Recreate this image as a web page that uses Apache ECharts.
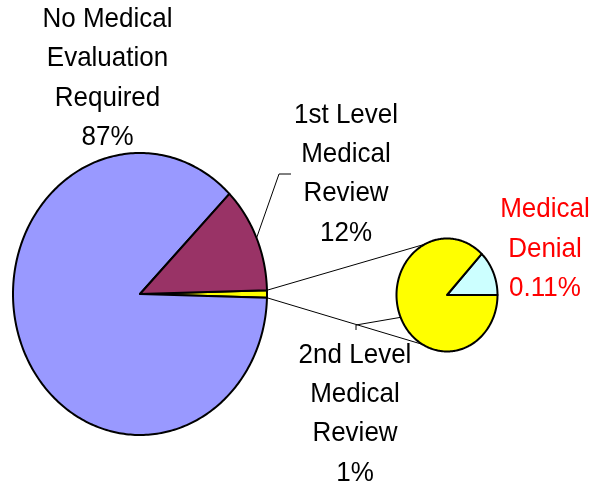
<!DOCTYPE html>
<html>
<head>
<meta charset="utf-8">
<script src="https://cdn.jsdelivr.net/npm/echarts@6/dist/echarts.min.js"></script>
<style>
html,body{margin:0;padding:0;background:#fff;}
#chart{width:594px;height:485px;}
</style>
</head>
<body>
<div id="chart"></div>
<script>
// ---- data ----
const categories = ['No Medical Evaluation Required', '1st Level Medical Review', '2nd Level Medical Review', 'Medical Denial'];
const values = [87.0, 12.15, 0.74, 0.11];
const percentLabels = ['87%', '12%', '1%', '0.11%'];
const labelLines = [
  ['No Medical', 'Evaluation', 'Required'],
  ['1st Level', 'Medical', 'Review'],
  ['2nd Level', 'Medical', 'Review'],
  ['Medical', 'Denial']
];

// ---- layout ----
const MAIN = {cx: 140, cy: 294, rx: 127, ry: 141};
const SEC = {cx: 447, cy: 295, rx: 50.5, ry: 56.5};
const COLORS = ['#9999FF', '#993366', '#FFFF00', '#CCFFFF'];

const otherValue = values[2] + values[3];
// main pie, clockwise order starting at the "other" slice centred on the right
const mainSlices = [
  {name: categories[2] + ' + ' + categories[3], value: otherValue, color: COLORS[2]},
  {name: categories[0], value: values[0], color: COLORS[0]},
  {name: categories[1], value: values[1], color: COLORS[1]}
];
const mainTotal = mainSlices.reduce((s, d) => s + d.value, 0);
const secSlices = [
  {name: categories[3], value: values[3], color: COLORS[3]},
  {name: categories[2], value: values[2], color: COLORS[2]}
];
const secTotal = secSlices.reduce((s, d) => s + d.value, 0);

function computeAngles(slices, total, start) {
  let a = start;
  return slices.map(d => {
    const span = d.value / total * 360;
    const r = [a, a - span];
    a -= span;
    return r;
  });
}
const mainAngles = computeAngles(mainSlices, mainTotal, otherValue / mainTotal * 180);
const secAngles = computeAngles(secSlices, secTotal, values[3] / secTotal * 360);

function pt(e, deg) {
  const t = deg * Math.PI / 180;
  return [e.cx + e.rx * Math.cos(t), e.cy - e.ry * Math.sin(t)];
}
function sector(e, a0, a1) {
  const pts = [[e.cx, e.cy]];
  const n = Math.max(2, Math.ceil(Math.abs(a0 - a1) / 1));
  for (let i = 0; i <= n; i++) pts.push(pt(e, a0 + (a1 - a0) * i / n));
  return pts;
}
function makeRender(e, slices, angles) {
  return function (params, api) {
    const i = params.dataIndex;
    const ang = angles[i];
    return {
      type: 'polygon',
      shape: {points: sector(e, ang[0], ang[1])},
      style: {fill: slices[i].color, stroke: '#000', lineWidth: 2, lineJoin: 'round'}
    };
  };
}

// leader / connector geometry derived from slice angles
const mid1st = (mainAngles[2][0] + mainAngles[2][1]) / 2;
const p1st = pt(MAIN, mid1st);
const mid2nd = (secAngles[1][0] + secAngles[1][1]) / 2;
const p2nd = pt(SEC, mid2nd);
const otherTop = pt(MAIN, mainAngles[0][0]);
const otherBot = pt(MAIN, mainAngles[0][1]);
const secTop = pt(SEC, 116);
const secBot = pt(SEC, -119);

const FONT = '26px "Liberation Sans", Arial, sans-serif';
function label(lines, pct, x, y, color) {
  return {
    type: 'text', x: x, y: y, scaleY: 1.07, z: 10,
    style: {
      text: lines.concat([pct]).join('\n'), x: 0, y: 0,
      font: FONT, fill: color, align: 'center', verticalAlign: 'middle', lineHeight: 36.8
    }
  };
}
const lineStyle = {stroke: '#000', lineWidth: 1, fill: null};

const chart = echarts.init(document.getElementById('chart'), null, {renderer: 'canvas'});
chart.setOption({
  animation: false,
  backgroundColor: '#fff',
  series: [
    {
      type: 'custom', coordinateSystem: 'none', silent: true, z: 3,
      data: mainSlices.map(d => ({name: d.name, value: d.value})),
      renderItem: makeRender(MAIN, mainSlices, mainAngles)
    },
    {
      type: 'custom', coordinateSystem: 'none', silent: true, z: 3,
      data: secSlices.map(d => ({name: d.name, value: d.value})),
      renderItem: makeRender(SEC, secSlices, secAngles)
    }
  ],
  graphic: [
    {type: 'polyline', z: 1, shape: {points: [otherTop, secTop]}, style: lineStyle},
    {type: 'polyline', z: 1, shape: {points: [otherBot, secBot]}, style: lineStyle},
    {type: 'polyline', z: 1, shape: {points: [p1st, [279, 174], [291, 174]]}, style: lineStyle},
    {type: 'polyline', z: 1, shape: {points: [p2nd, [356, 325], [356, 330]]}, style: lineStyle},
    label(labelLines[0], percentLabels[0], 107.5, 78.5, '#000'),
    label(labelLines[1], percentLabels[1], 346, 174, '#000'),
    label(labelLines[2], percentLabels[2], 355, 414, '#000'),
    label(labelLines[3], percentLabels[3], 545, 249, '#FF0000')
  ]
});
</script>
</body>
</html>
